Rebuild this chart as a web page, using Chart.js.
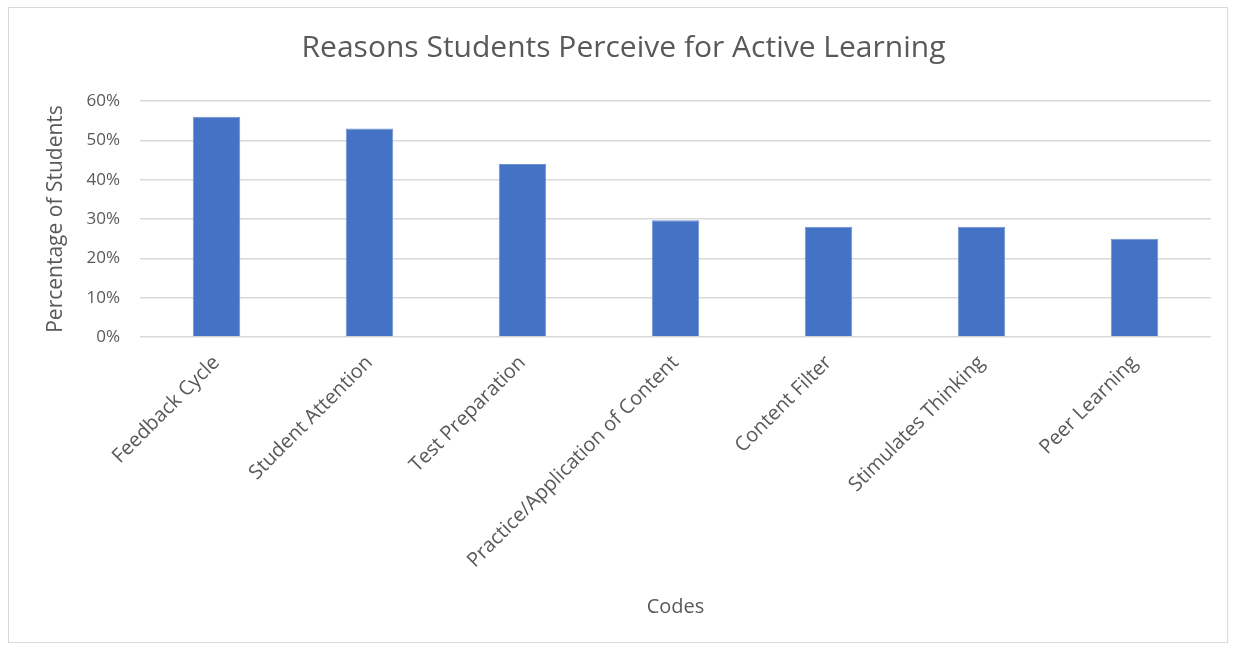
<!DOCTYPE html>
<html>
<head>
<meta charset="utf-8">
<script src="https://cdn.jsdelivr.net/npm/chart.js@4/dist/chart.umd.min.js"></script>
<style>
  html, body { margin: 0; padding: 0; background: #fff; }
  #wrap { position: relative; width: 1234px; height: 649px; }
  #frame { position: absolute; left: 8px; top: 7px; width: 1220px; height: 636px; border: 1px solid #d9d9d9; box-sizing: border-box; }
  canvas { position: absolute; left: 0; top: 0; }
</style>
</head>
<body>
<div id="wrap">
  <div id="frame"></div>
  <canvas id="chart" width="1234" height="649"></canvas>
</div>
<script>
/* Reasons students perceive for active learning — bar chart */

const categories = [
  'Feedback Cycle',
  'Student Attention',
  'Test Preparation',
  'Practice/Application of Content',
  'Content Filter',
  'Stimulates Thinking',
  'Peer Learning'
];
const percentages = [56, 53, 44, 29.7, 28, 28, 25];
const tickValues = [0, 10, 20, 30, 40, 50, 60];

const textColor = '#595959';
const gridColor = '#d9d9d9';
const font = 'Open Sans';

const ctx = document.getElementById('chart').getContext('2d');

new Chart(ctx, {
  type: 'bar',
  data: {
    labels: categories,
    datasets: [{
      data: percentages,
      backgroundColor: '#4472c4',
      borderColor: '#6f93d3',
      borderWidth: 1,
      barPercentage: 0.31,
      categoryPercentage: 1
    }]
  },
  options: {
    responsive: false,
    animation: false,
    // left padding shifts the title centre to match the reference
    layout: { padding: { left: 36, right: 23, top: 0, bottom: 20 } },
    plugins: {
      legend: { display: false },
      tooltip: { enabled: false },
      title: {
        display: true,
        text: 'Reasons Students Perceive for Active Learning',
        color: textColor,
        font: { family: font, size: 30, weight: '400' },
        padding: { top: 30, bottom: 35 }
      }
    },
    scales: {
      x: {
        grid: { display: false },
        border: { display: false },
        ticks: {
          color: textColor,
          font: { family: font, size: 20 },
          minRotation: 45,
          maxRotation: 45,
          padding: 6
        },
        title: {
          display: true,
          text: 'Codes',
          color: textColor,
          font: { family: font, size: 20 },
          padding: { top: 0, bottom: 10 }
        },
        afterFit: (scale) => { scale.height = 292; }
      },
      y: {
        min: 0,
        max: 60,
        afterBuildTicks: (scale) => { scale.ticks = tickValues.map(v => ({ value: v })); },
        grid: { color: gridColor, lineWidth: 1.5, drawTicks: false },
        border: { display: false },
        ticks: {
          color: textColor,
          font: { family: font, size: 17 },
          padding: 20,
          callback: (value) => value + '%'
        },
        title: {
          display: true,
          text: 'Percentage of Students',
          color: textColor,
          font: { family: font, size: 21 },
          padding: { top: 7, bottom: 0 }
        },
        afterFit: (scale) => { scale.width = 104; }
      }
    }
  }
});
</script>
</body>
</html>
